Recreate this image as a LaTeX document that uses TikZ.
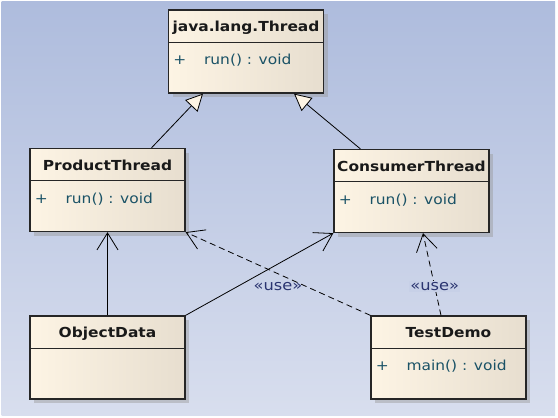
\documentclass[tikz,border=0pt]{standalone}
\usepackage{fontspec}
\setmainfont[FakeStretch=1.12]{DejaVu Sans}
\usetikzlibrary{arrows.meta,shadows}

\definecolor{bgtop}{HTML}{AEBCDD}
\definecolor{bgbot}{HTML}{D8DEEE}
\definecolor{boxl}{HTML}{FDF4E4}
\definecolor{boxr}{HTML}{E7DECF}
\definecolor{membcol}{HTML}{1A5266}
\definecolor{usecol}{HTML}{2A3470}

\begin{document}
\begin{tikzpicture}[x=1pt,y=-1pt,
    cls/.style={draw=black!85,line width=1.3pt,left color=boxl,right color=boxr,
      minimum width=155pt,minimum height=83pt,inner sep=0pt,
      drop shadow={shadow xshift=4pt,shadow yshift=-4pt,fill=black!40,opacity=.45}},
    clstitle/.style={font=\fontsize{13.8}{16}\selectfont\bfseries,text=black!90,inner sep=0pt,anchor=base},
    clsmemb/.style={font=\fontsize{13.8}{16}\selectfont,text=membcol,inner sep=0pt},
    inherit/.style={line width=0.8pt,-{Triangle[open,length=17pt,width=17pt,fill=boxl]}},
    assoc/.style={line width=0.8pt,-{Straight Barb[length=17pt,width=21pt]}},
    dep/.style={assoc,dash pattern=on 6pt off 4pt},
    uselbl/.style={font=\fontsize{14.5}{16}\selectfont,text=usecol,inner sep=1pt}]
    \useasboundingbox (0,0) rectangle (558,418);
    \fill[white] (0,0) rectangle (558,418);
    \fill[top color=bgtop,bottom color=bgbot] (1.5,1.5) rectangle (555,415);
    % classes
    \foreach \n/\x/\y/\title/\pl/\memb in {
      thread/246/51.5/java.lang.Thread/+/run() : void,
      prod/107.5/190/ProductThread/+/run() : void,
      cons/411.5/191/ConsumerThread/+/run() : void,
      obj/107.5/357.5/ObjectData/{}/{},
      test/448.5/357.5/TestDemo/+/main() : void}
    {
      \node[cls] (\n) at (\x,\y) {};
      \draw[line width=1.1pt,draw=black!85] ([yshift=-33pt]\n.north west) -- ([yshift=-33pt]\n.north east);
      \node[clstitle] at ([yshift=-22.5pt]\n.north) {\title};
      \node[clsmemb] at ([xshift=12pt,yshift=-51pt]\n.north west) {\pl};
      \node[clsmemb,anchor=west] at ([xshift=36pt,yshift=-51pt]\n.north west) {\memb};
    }
    % relations
    \draw[inherit] ([xshift=44pt]prod.north) -- ([xshift=-43pt]thread.south);
    \draw[inherit] ([xshift=27pt]cons.north west) -- ([xshift=48pt]thread.south);
    \draw[assoc] (obj.north) -- (prod.south);
    \draw[assoc] (obj.north east) -- (cons.south west);
    \draw[dep] (test.north west) -- node[uselbl,pos=.5,yshift=-13pt] {«use»} (prod.south east);
    \draw[dep] ([xshift=-7.5pt]test.north) -- node[uselbl,pos=.35,fill=bgbot!60!bgtop] {«use»} ([xshift=11.5pt]cons.south);
\end{tikzpicture}
\end{document}
